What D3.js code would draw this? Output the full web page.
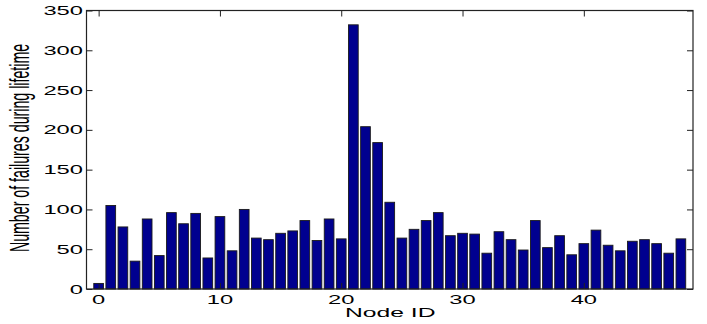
<!DOCTYPE html>
<html>
<head>
<meta charset="utf-8">
<script src="https://cdn.jsdelivr.net/npm/d3@7/dist/d3.min.js"></script>
<style>
  body { margin: 0; background: #fff; }
  text { font-family: "Liberation Sans", Arial, sans-serif; fill: #000; }
</style>
</head>
<body>
<div id="chart"></div>
<script>
// failures per node
const nodeIds = d3.range(0, 49);
const failures = [7, 105, 78, 35, 88, 42, 96, 82, 95, 39,
                  91, 48, 100, 64, 62, 70, 73, 86, 61, 88,
                  63, 332, 204, 184, 109, 64, 75, 86, 96, 67,
                  70, 69, 45, 72, 62, 49, 86, 52, 67, 43,
                  57, 74, 55, 48, 60, 62, 57, 45, 63];
const xTicks = [0, 10, 20, 30, 40];
const yTicks = [0, 50, 100, 150, 200, 250, 300, 350];
const xLabel = "Node ID";
const yLabel = "Number of failures during lifetime";

const W = 707, H = 324;
const pL = 86.5, pR = 693, pT = 10.5, pB = 289;
const stretch = 1.9; // text in the picture is widened horizontally

const svg = d3.select('#chart').append('svg')
    .attr('width', W)
    .attr('height', H);

const x = d3.scaleLinear().domain([-1, 49]).range([pL, pR]);
const y = d3.scaleLinear().domain([0, 350]).range([pB, pT]);
const barW = x(0.8) - x(0);

// bars
svg.selectAll('rect.bar').data(nodeIds).enter()
    .append('rect')
        .attr('class', 'bar')
        .attr('x', d => x(d) - barW / 2)
        .attr('y', d => y(failures[d]))
        .attr('width', barW)
        .attr('height', d => y(0) - y(failures[d]))
        .attr('fill', '#00008f')
        .attr('stroke', '#1a1a1a')
        .attr('stroke-width', 0.9);

// box + inward ticks on all four sides
const axisStyle = g => {
    g.selectAll('text').remove();
    g.select('.domain').remove();
    g.selectAll('line').attr('stroke', '#222').attr('stroke-width', 1);
};
svg.append('g').attr('transform', `translate(0,${pB})`)
    .call(d3.axisBottom(x).tickValues(xTicks).tickSize(-6)).call(axisStyle);
svg.append('g').attr('transform', `translate(0,${pT})`)
    .call(d3.axisTop(x).tickValues(xTicks).tickSize(-6)).call(axisStyle);
svg.append('g').attr('transform', `translate(${pL},0)`)
    .call(d3.axisLeft(y).tickValues(yTicks).tickSize(-6)).call(axisStyle);
svg.append('g').attr('transform', `translate(${pR},0)`)
    .call(d3.axisRight(y).tickValues(yTicks).tickSize(-6)).call(axisStyle);

svg.append('rect')
    .attr('x', pL).attr('y', pT)
    .attr('width', pR - pL).attr('height', pB - pT)
    .attr('fill', 'none')
    .attr('stroke', '#222')
    .attr('stroke-width', 1.2);

// tick labels
svg.selectAll('text.yt').data(yTicks).enter()
    .append('text')
        .attr('class', 'yt')
        .attr('transform', d => `translate(83,${y(d) + 4.5}) scale(${stretch},1)`)
        .attr('text-anchor', 'end')
        .attr('font-size', 12.5)
        .text(d => d);

svg.selectAll('text.xt').data(xTicks).enter()
    .append('text')
        .attr('class', 'xt')
        .attr('transform', d => `translate(${x(d)},304) scale(${stretch},1)`)
        .attr('text-anchor', 'middle')
        .attr('font-size', 12.5)
        .text(d => d);

// axis titles
svg.append('text')
    .attr('transform', `translate(${(pL + pR) / 2 + 0.5},317) scale(${stretch},1)`)
    .attr('text-anchor', 'middle')
    .attr('font-size', 13)
    .text(xLabel);

svg.append('text')
    .attr('transform', `translate(29,148) scale(${stretch},1) rotate(-90)`)
    .attr('text-anchor', 'middle')
    .attr('font-size', 14.2)
    .text(yLabel);
</script>
</body>
</html>
